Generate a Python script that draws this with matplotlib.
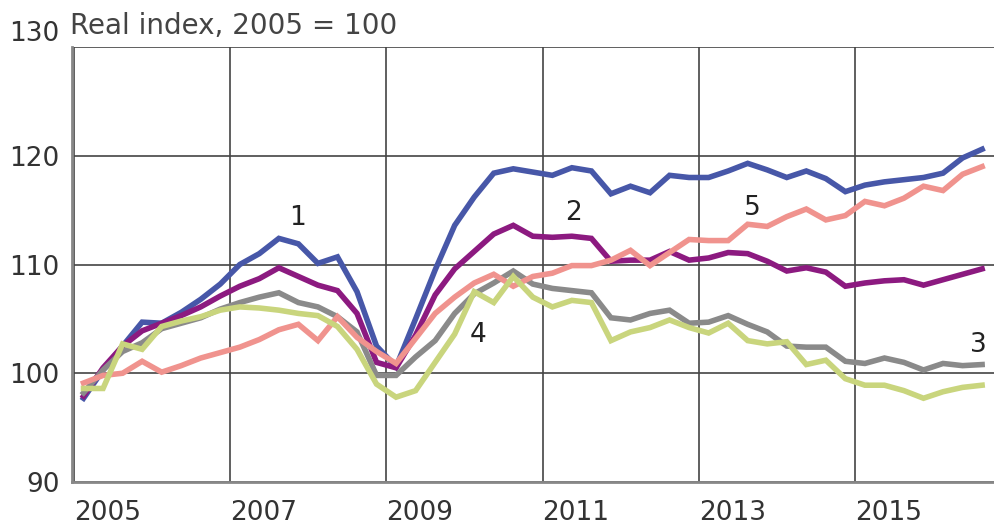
import numpy as np
import matplotlib.pyplot as plt

# quarterly, 2005Q1 .. 2016Q3 (mid-quarter positions)
quarters = 2005.125 + 0.25 * np.arange(47)

s1 = [97.7, 100.3, 102.5, 104.7, 104.6, 105.6, 106.8, 108.2, 110.0, 111.0, 112.4, 111.9,
      110.1, 110.7, 107.5, 102.5, 100.6, 105.0, 109.5, 113.6, 116.2, 118.4, 118.8, 118.5,
      118.2, 118.9, 118.6, 116.5, 117.2, 116.6, 118.2, 118.0, 118.0, 118.6, 119.3, 118.7,
      118.0, 118.6, 117.9, 116.7, 117.3, 117.6, 117.8, 118.0, 118.4, 119.8, 120.6]
s2 = [97.9, 100.5, 102.5, 103.9, 104.6, 105.3, 106.1, 107.1, 108.0, 108.7, 109.7, 108.9,
      108.1, 107.6, 105.5, 101.0, 100.5, 103.5, 107.2, 109.6, 111.2, 112.8, 113.6, 112.6,
      112.5, 112.6, 112.4, 110.3, 110.4, 110.4, 111.2, 110.4, 110.6, 111.1, 111.0, 110.3,
      109.4, 109.7, 109.3, 108.0, 108.3, 108.5, 108.6, 108.1, 108.6, 109.1, 109.6]
s3 = [98.2, 100.3, 102.0, 102.8, 104.1, 104.6, 105.1, 105.9, 106.5, 107.0, 107.4, 106.5,
      106.1, 105.2, 103.8, 99.8, 99.8, 101.5, 103.0, 105.5, 107.3, 108.3, 109.4, 108.2,
      107.8, 107.6, 107.4, 105.1, 104.9, 105.5, 105.8, 104.6, 104.7, 105.3, 104.5, 103.8,
      102.5, 102.4, 102.4, 101.1, 100.9, 101.4, 101.0, 100.3, 100.9, 100.7, 100.8]
s4 = [98.6, 98.6, 102.7, 102.2, 104.3, 104.8, 105.2, 105.8, 106.1, 106.0, 105.8, 105.5,
      105.3, 104.3, 102.2, 99.0, 97.8, 98.4, 101.0, 103.6, 107.5, 106.5, 108.9, 107.0,
      106.1, 106.7, 106.5, 103.0, 103.8, 104.2, 104.9, 104.2, 103.7, 104.6, 103.0, 102.7,
      102.9, 100.8, 101.2, 99.5, 98.9, 98.9, 98.4, 97.7, 98.3, 98.7, 98.9]
s5 = [99.1, 99.8, 100.0, 101.1, 100.1, 100.7, 101.4, 101.9, 102.4, 103.1, 104.0, 104.5,
      103.0, 105.2, 103.3, 102.0, 100.9, 103.2, 105.5, 107.0, 108.3, 109.1, 108.0, 108.9,
      109.2, 109.9, 109.9, 110.4, 111.3, 109.9, 111.1, 112.3, 112.2, 112.2, 113.7, 113.5,
      114.4, 115.1, 114.1, 114.5, 115.8, 115.4, 116.1, 117.2, 116.8, 118.3, 119.0]

series = [s1, s2, s3, s5, s4]
colors = ['#4757a8', '#8c1a80', '#8a8a8a', '#f0938e', '#c9d57d']

labels = ['1', '2', '3', '4', '5']
label_pos = [(2007.86, 114.3), (2011.4, 114.7), (2016.58, 102.6), (2010.17, 103.5), (2013.69, 115.2)]

year_ticks = [2005, 2007, 2009, 2011, 2013, 2015]
value_ticks = [90, 100, 110, 120, 130]

fig = plt.figure(figsize=(9.95, 5.27), dpi=100)
ax = fig.add_axes([0.0724, 0.0854, 0.9276, 0.8254])

for s, c in zip(series, colors):
    ax.plot(quarters, s, color=c, lw=4, solid_joinstyle='miter', zorder=3)

for t, (x, y) in zip(labels, label_pos):
    ax.text(x, y, t, fontsize=19, color='#222222', ha='center', va='center', zorder=4)

ax.set_xlim(2004.978, 2016.79)
ax.set_ylim(90, 130)
ax.set_xticks(year_ticks)
ax.set_xticklabels([str(y) for y in year_ticks], ha='left')
ax.set_yticks(value_ticks)
ax.tick_params(length=0, labelsize=19, colors='#333333')
ax.tick_params(axis='x', pad=13)
ax.tick_params(axis='y', pad=9)
ax.get_yticklabels()[-1].set_va('bottom')

ax.grid(True, color='#444444', lw=1.2, zorder=1)
for side in ['top', 'right']:
    ax.spines[side].set_visible(False)
for side in ['left', 'bottom']:
    ax.spines[side].set_color('#888888')
    ax.spines[side].set_linewidth(2)

ax.text(-0.002, 1.03, 'Real index, 2005 = 100', transform=ax.transAxes, fontsize=20,
        color='#444444', ha='left', va='baseline')

fig.savefig('out.png', dpi=100)
